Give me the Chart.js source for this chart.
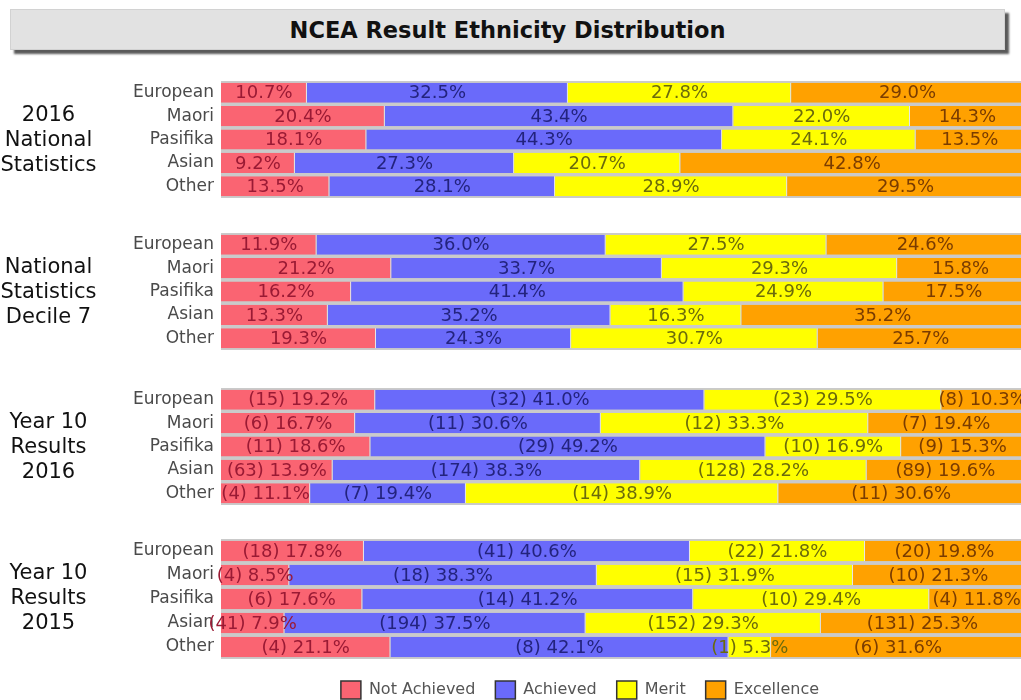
<!DOCTYPE html>
<html>
<head>
<meta charset="utf-8">
<title>NCEA Result Ethnicity Distribution</title>
<script src="https://cdn.jsdelivr.net/npm/chart.js@4.4.1/dist/chart.umd.min.js"></script>
<style>
  html, body { margin: 0; padding: 0; background: #fff; }
  body { width: 1021px; height: 700px; overflow: hidden; position: relative; font-family: 'DejaVu Sans', sans-serif; }
  .title {
    position: absolute; left: 10px; top: 9px; width: 995px; height: 41px;
    background: #e2e2e2; border: 1px solid #d2d2d2; box-sizing: border-box;
    box-shadow: 4px 4px 2px #5a5a5a;
    text-align: center; line-height: 40px;
    font-weight: bold; font-size: 22.5px; color: #111;
  }
  .group { position: absolute; left: 0; width: 1024px; }
  .group canvas { position: absolute; left: 0; top: 0; }
  .glabel {
    position: absolute; left: 0; width: 97px; text-align: center;
    font-size: 21px; line-height: 25px; color: #111; z-index: 2;
  }
</style>
</head>
<body>
<div class="title">NCEA Result Ethnicity Distribution</div>

<div class="group" style="top:81px"><div class="glabel" style="top:21px">2016<br>National<br>Statistics</div><canvas id="g1" width="1024" height="117"></canvas></div>
<div class="group" style="top:233px"><div class="glabel" style="top:21px">National<br>Statistics<br>Decile 7</div><canvas id="g2" width="1024" height="117"></canvas></div>
<div class="group" style="top:388px"><div class="glabel" style="top:21px">Year 10<br>Results<br>2016</div><canvas id="g3" width="1024" height="117"></canvas></div>
<div class="group" style="top:539px"><div class="glabel" style="top:21px">Year 10<br>Results<br>2015</div><canvas id="g4" width="1024" height="161"></canvas></div>

<script>
const ethnicities = ['European', 'Maori', 'Pasifika', 'Asian', 'Other'];
const levels = ['Not Achieved', 'Achieved', 'Merit', 'Excellence'];

// 2016 National Statistics (%)
const nat2016NotAchieved = [10.7, 20.4, 18.1, 9.2, 13.5];
const nat2016Achieved    = [32.5, 43.4, 44.3, 27.3, 28.1];
const nat2016Merit       = [27.8, 22.0, 24.1, 20.7, 28.9];
const nat2016Excellence  = [29.0, 14.3, 13.5, 42.8, 29.5];

// National Statistics Decile 7 (%)
const dec7NotAchieved = [11.9, 21.2, 16.2, 13.3, 19.3];
const dec7Achieved    = [36.0, 33.7, 41.4, 35.2, 24.3];
const dec7Merit       = [27.5, 29.3, 24.9, 16.3, 30.7];
const dec7Excellence  = [24.6, 15.8, 17.5, 35.2, 25.7];

// Year 10 Results 2016 (%, counts)
const y2016NotAchieved = [19.2, 16.7, 18.6, 13.9, 11.1];
const y2016Achieved    = [41.0, 30.6, 49.2, 38.3, 19.4];
const y2016Merit       = [29.5, 33.3, 16.9, 28.2, 38.9];
const y2016Excellence  = [10.3, 19.4, 15.3, 19.6, 30.6];
const y2016NotAchievedN = [15, 6, 11, 63, 4];
const y2016AchievedN    = [32, 11, 29, 174, 7];
const y2016MeritN       = [23, 12, 10, 128, 14];
const y2016ExcellenceN  = [8, 7, 9, 89, 11];

// Year 10 Results 2015 (%, counts)
const y2015NotAchieved = [17.8, 8.5, 17.6, 7.9, 21.1];
const y2015Achieved    = [40.6, 38.3, 41.2, 37.5, 42.1];
const y2015Merit       = [21.8, 31.9, 29.4, 29.3, 5.3];
const y2015Excellence  = [19.8, 21.3, 11.8, 25.3, 31.6];
const y2015NotAchievedN = [18, 4, 6, 41, 4];
const y2015AchievedN    = [41, 18, 14, 194, 8];
const y2015MeritN       = [22, 15, 10, 152, 1];
const y2015ExcellenceN  = [20, 10, 4, 131, 6];

const fillColors = ['rgb(250,100,114)', 'rgb(106,106,250)', 'rgb(255,255,0)', 'rgb(255,161,0)'];
const textColors = ['#9a1a34', '#23237e', '#6b6b0c', '#7a3c00'];

// grey behind the bars, shows as the thin lines between rows
const areaBackground = {
  id: 'areaBackground',
  beforeDatasetsDraw(chart) {
    const a = chart.chartArea;
    const ctx = chart.ctx;
    ctx.save();
    ctx.fillStyle = '#cacaca';
    ctx.fillRect(a.left, a.top, a.right - a.left, a.bottom - a.top);
    ctx.restore();
  }
};

// value labels centred on each segment
const segmentLabels = {
  id: 'segmentLabels',
  afterDatasetsDraw(chart) {
    const ctx = chart.ctx;
    ctx.save();
    ctx.font = '18px "DejaVu Sans"';
    ctx.textAlign = 'center';
    ctx.textBaseline = 'middle';
    chart.data.datasets.forEach((ds, di) => {
      chart.getDatasetMeta(di).data.forEach((bar, i) => {
        const pct = ds.data[i].toFixed(1) + '%';
        const txt = ds.counts ? '(' + ds.counts[i] + ') ' + pct : pct;
        ctx.fillStyle = textColors[di];
        ctx.fillText(txt, (bar.x + bar.base) / 2, bar.y + 1);
      });
    });
    ctx.restore();
  }
};

// the shared legend sits a bit right of the canvas centre
const legendShift = {
  id: 'legendShift',
  afterLayout(chart) {
    const lg = chart.legend;
    if (lg && lg.options.display) {
      lg.left += 68;
      lg.right += 68;
      lg.top += 2;
      lg.bottom += 2;
    }
  }
};

function makeChart(id, series, counts, withLegend) {
  const datasets = series.map((s, i) => ({
    label: levels[i],
    data: s,
    counts: counts ? counts[i] : null,
    backgroundColor: fillColors[i],
    borderColor: 'rgba(255,255,255,0.55)',
    borderWidth: { right: 1 },
    borderSkipped: false,
    barPercentage: 0.86,
    categoryPercentage: 1
  }));
  const canvas = document.getElementById(id);
  if (withLegend) canvas.height = 168;
  return new Chart(canvas, {
    type: 'bar',
    data: { labels: ethnicities, datasets: datasets },
    plugins: [areaBackground, segmentLabels, legendShift],
    options: {
      indexAxis: 'y',
      responsive: false,
      animation: false,
      layout: { padding: 0 },
      scales: {
        x: { stacked: true, min: 0, max: 100, display: false },
        y: {
          stacked: true,
          grid: { display: false, drawTicks: false },
          border: { display: false },
          ticks: {
            color: '#4a4a4a', padding: 7, autoSkip: false,
            font: { family: 'DejaVu Sans', size: 17 }
          },
          afterFit(scale) {
            scale.width = 221;
            scale.paddingTop = 0;
            scale.paddingBottom = 0;
          }
        }
      },
      plugins: {
        tooltip: { enabled: false },
        legend: {
          display: !!withLegend,
          position: 'bottom',
          labels: {
            color: '#555',
            boxWidth: 20,
            boxHeight: 18,
            padding: 20,
            font: { family: 'DejaVu Sans', size: 16 },
            generateLabels(chart) {
              return chart.data.datasets.map((ds, i) => ({
                text: ds.label,
                fillStyle: fillColors[i],
                strokeStyle: '#333',
                lineWidth: 1.5,
                fontColor: '#555',
                datasetIndex: i
              }));
            }
          }
        }
      }
    }
  });
}

makeChart('g1', [nat2016NotAchieved, nat2016Achieved, nat2016Merit, nat2016Excellence]);
makeChart('g2', [dec7NotAchieved, dec7Achieved, dec7Merit, dec7Excellence]);
makeChart('g3', [y2016NotAchieved, y2016Achieved, y2016Merit, y2016Excellence],
  [y2016NotAchievedN, y2016AchievedN, y2016MeritN, y2016ExcellenceN]);
makeChart('g4', [y2015NotAchieved, y2015Achieved, y2015Merit, y2015Excellence],
  [y2015NotAchievedN, y2015AchievedN, y2015MeritN, y2015ExcellenceN], true);
</script>
</body>
</html>
